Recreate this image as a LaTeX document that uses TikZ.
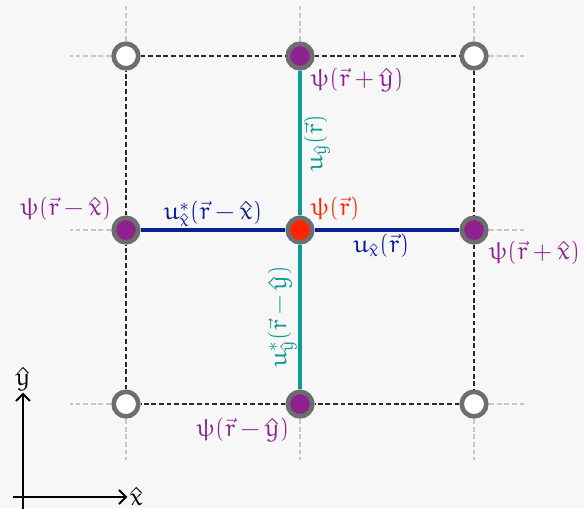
\documentclass[tikz,border=0pt]{standalone}
\usepackage{euler}
\usetikzlibrary{arrows.meta,positioning,calc}
\definecolor{bgpaper}{HTML}{F7F7F7}
\definecolor{sitegray}{HTML}{6E6E6E}
\definecolor{psipurple}{HTML}{8E2390}
\definecolor{psired}{HTML}{FF2400}
\definecolor{linkblue}{HTML}{0A1E96}
\definecolor{linkteal}{HTML}{12999A}
\definecolor{gridblack}{HTML}{2A2A2A}

\tikzset{
  site/.style={circle, draw=sitegray, line width=2.3pt, minimum size=12.3pt,
               inner sep=0pt, fill=white},
  filled/.style={site, fill=psipurple},
  origin/.style={site, fill=psired},
  gridline/.style={draw=gridblack, line width=0.65pt, dash pattern=on 2.4pt off 1.4pt},
  faintline/.style={draw=black!22, line width=0.6pt, dash pattern=on 2.4pt off 1.4pt},
  linkx/.style={draw=linkblue, line width=1.7pt},
  linky/.style={draw=linkteal, line width=1.9pt},
  lbl/.style={inner sep=1pt, font=\fontsize{12.4}{15}\selectfont},
  axisline/.style={line width=1pt, -{Straight Barb[length=3.5pt, width=7pt]}}
}

\begin{document}
\begin{tikzpicture}[x=87pt, y=87pt]
  \useasboundingbox[fill=bgpaper] (-1.724,-1.598) rectangle (1.632,1.322);

  % faint continuation of the lattice
  \foreach \k in {-1,0,1} {
    \draw[faintline] (\k,1) -- (\k,1.3);
    \draw[faintline] (\k,-1) -- (\k,-1.32);
    \draw[faintline] (-1,\k) -- (-1.32,\k);
    \draw[faintline] (1,\k) -- (1.3,\k);
  }

  % sites
  \foreach \name/\x/\y in {nw/-1/1, ne/1/1, sw/-1/-1, se/1/-1}
    \node[site] (\name) at (\x,\y) {};
  \node[filled] (n) at (0,1) {};
  \node[filled] (s) at (0,-1) {};
  \node[filled] (w) at (-1,0) {};
  \node[filled] (e) at (1,0) {};

  % plaquette border
  \draw[gridline] (nw) -- (n);
  \draw[gridline] (n) -- (ne);
  \draw[gridline] (ne) -- (e);
  \draw[gridline] (e) -- (se);
  \draw[gridline] (se) -- (s);
  \draw[gridline] (s) -- (sw);
  \draw[gridline] (sw) -- (w);
  \draw[gridline] (w) -- (nw);

  \node[origin] (c) at (0,0) {};

  % links
  \draw[linkx] (w) -- (c)
    node[midway, above, lbl, text=linkblue] (uxm) {$u^*_{\hat{x}}(\vec{r}-\hat{x})$};
  \draw[linkx] (c) -- (e)
    node[pos=0.46, below, lbl, text=linkblue] (uxp) {$u_{\hat{x}}(\vec{r})$};
  \draw[linky] (c) -- (n)
    node[midway, sloped, below, lbl, text=linkteal] (uyp) {$u_{\hat{y}}(\vec{r})$};
  \draw[linky] (s) -- (c)
    node[midway, sloped, above, lbl, text=linkteal] (uym) {$u^*_{\hat{y}}(\vec{r}-\hat{y})$};

  % site labels
  \node[lbl, text=psired, above right=-2pt and -1pt of c] (psic) {$\psi(\vec{r})$};
  \node[lbl, text=psipurple, below right=-0.5pt and -1pt of n] (psin) {$\psi(\vec{r}+\hat{y})$};
  \node[lbl, text=psipurple, below right=-1pt and 1pt of e] (psie) {$\psi(\vec{r}+\hat{x})$};
  \node[lbl, text=psipurple, above left=-2pt and 1pt of w] (psiw) {$\psi(\vec{r}-\hat{x})$};
  \node[lbl, text=psipurple, below left=0.5pt and -1pt of s] (psis) {$\psi(\vec{r}-\hat{y})$};

  % axes
  \coordinate (ax0) at (-1.592,-1.534);
  \coordinate (axx) at ($(ax0)+(0.6,0)$);
  \coordinate (axy) at ($(ax0)+(0,0.6)$);
  \draw[axisline] ($(ax0)+(-0.06,0)$) -- (axx);
  \draw[axisline] ($(ax0)+(0,-0.07)$) -- (axy);
  \node[lbl, right=0pt of axx] (xhat) {$\hat{x}$};
  \node[lbl, above=0pt of axy] (yhat) {$\hat{y}$};
\end{tikzpicture}
\end{document}
